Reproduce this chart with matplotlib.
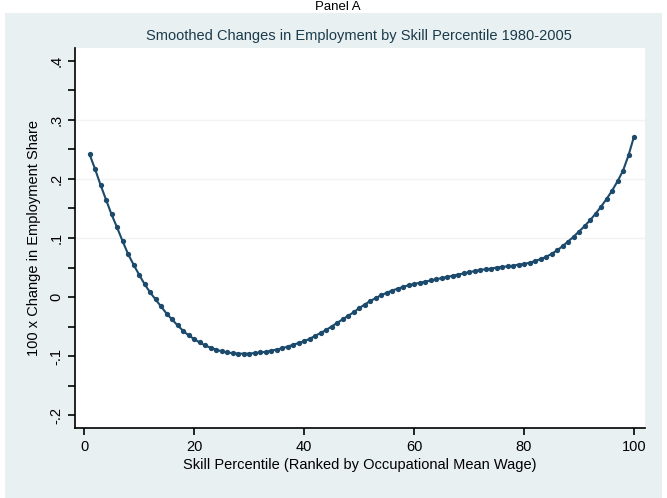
import numpy as np
import matplotlib.pyplot as plt
from matplotlib.patches import Rectangle
from matplotlib.ticker import MultipleLocator, FixedFormatter, FixedLocator

plt.rcParams['font.family'] = ['Liberation Sans Narrow', 'Liberation Sans', 'DejaVu Sans']

# skill percentile 1..100 and smoothed change in employment share
pct = np.arange(1, 101)
change = [
    0.242, 0.217, 0.190, 0.165, 0.140, 0.118, 0.095, 0.073, 0.055, 0.038,
    0.022, 0.008, -0.004, -0.016, -0.028, -0.038, -0.048, -0.057, -0.065, -0.071,
    -0.077, -0.082, -0.086, -0.089, -0.092, -0.094, -0.095, -0.096, -0.096, -0.096,
    -0.095, -0.094, -0.093, -0.091, -0.089, -0.087, -0.084, -0.081, -0.078, -0.075,
    -0.071, -0.066, -0.061, -0.056, -0.050, -0.044, -0.038, -0.032, -0.026, -0.019,
    -0.013, -0.007, -0.002, 0.003, 0.007, 0.011, 0.014, 0.017, 0.020, 0.022,
    0.024, 0.026, 0.028, 0.030, 0.032, 0.034, 0.036, 0.038, 0.040, 0.042,
    0.044, 0.046, 0.047, 0.048, 0.050, 0.051, 0.052, 0.053, 0.055, 0.056,
    0.058, 0.061, 0.064, 0.068, 0.073, 0.079, 0.086, 0.094, 0.102, 0.111,
    0.120, 0.130, 0.141, 0.153, 0.166, 0.180, 0.196, 0.214, 0.240, 0.272,
]
yticks = [-0.2, -0.1, 0, 0.1, 0.2, 0.3, 0.4]
ylabels = ['-.2', '-.1', '0', '.1', '.2', '.3', '.4']
xticks = [0, 20, 40, 60, 80, 100]

fig = plt.figure(figsize=(6.67, 4.98), dpi=100)
fig.patch.set_facecolor('white')
# stata graph region
bg = Rectangle((5 / 667, 0), 657 / 667, 1 - 13 / 498,
               transform=fig.transFigure, facecolor='#e9f0f2',
               edgecolor='none', zorder=-10)
fig.add_artist(bg)

ax = fig.add_axes([75 / 667, 1 - 428 / 498, 570 / 667, 380 / 498])
ax.set_zorder(1)
ax.set_facecolor('white')
ax.plot(pct, change, color='#1c4a6c', lw=1.5, marker='o', ms=3.8,
        markeredgewidth=0, zorder=3)

ax.set_xlim(-1.64, 102)
ax.set_ylim(-0.222, 0.422)
ax.set_xticks(xticks)
ax.yaxis.set_major_locator(FixedLocator(yticks))
ax.yaxis.set_major_formatter(FixedFormatter(ylabels))
ax.yaxis.set_minor_locator(MultipleLocator(0.05))
for y in [0.1, 0.2, 0.3]:
    ax.axhline(y, color='#f2f4f4', lw=1, zorder=1)

for s in ['top', 'right']:
    ax.spines[s].set_visible(False)
for s in ['left', 'bottom']:
    ax.spines[s].set_linewidth(1.2)
ax.tick_params(axis='both', labelsize=10.5, length=5, width=1.2, color='black')
ax.tick_params(axis='y', which='minor', length=5, width=1.2)
plt.setp(ax.get_yticklabels(), rotation=90, va='center')

ax.set_xlabel('Skill Percentile (Ranked by Occupational Mean Wage)', fontsize=10.5, labelpad=3)
ax.set_ylabel('100 x Change in Employment Share', fontsize=10.5, labelpad=6)

fig.text(359 / 667, 1 - 36 / 498, 'Smoothed Changes in Employment by Skill Percentile 1980-2005',
         ha='center', va='center', fontsize=10.5, color='#1a3a4a')
fig.text(338 / 667, 1 - 1 / 498, 'Panel A', ha='center', va='top', fontsize=9.5)

fig.savefig('out.png', dpi=100, facecolor=fig.get_facecolor())
